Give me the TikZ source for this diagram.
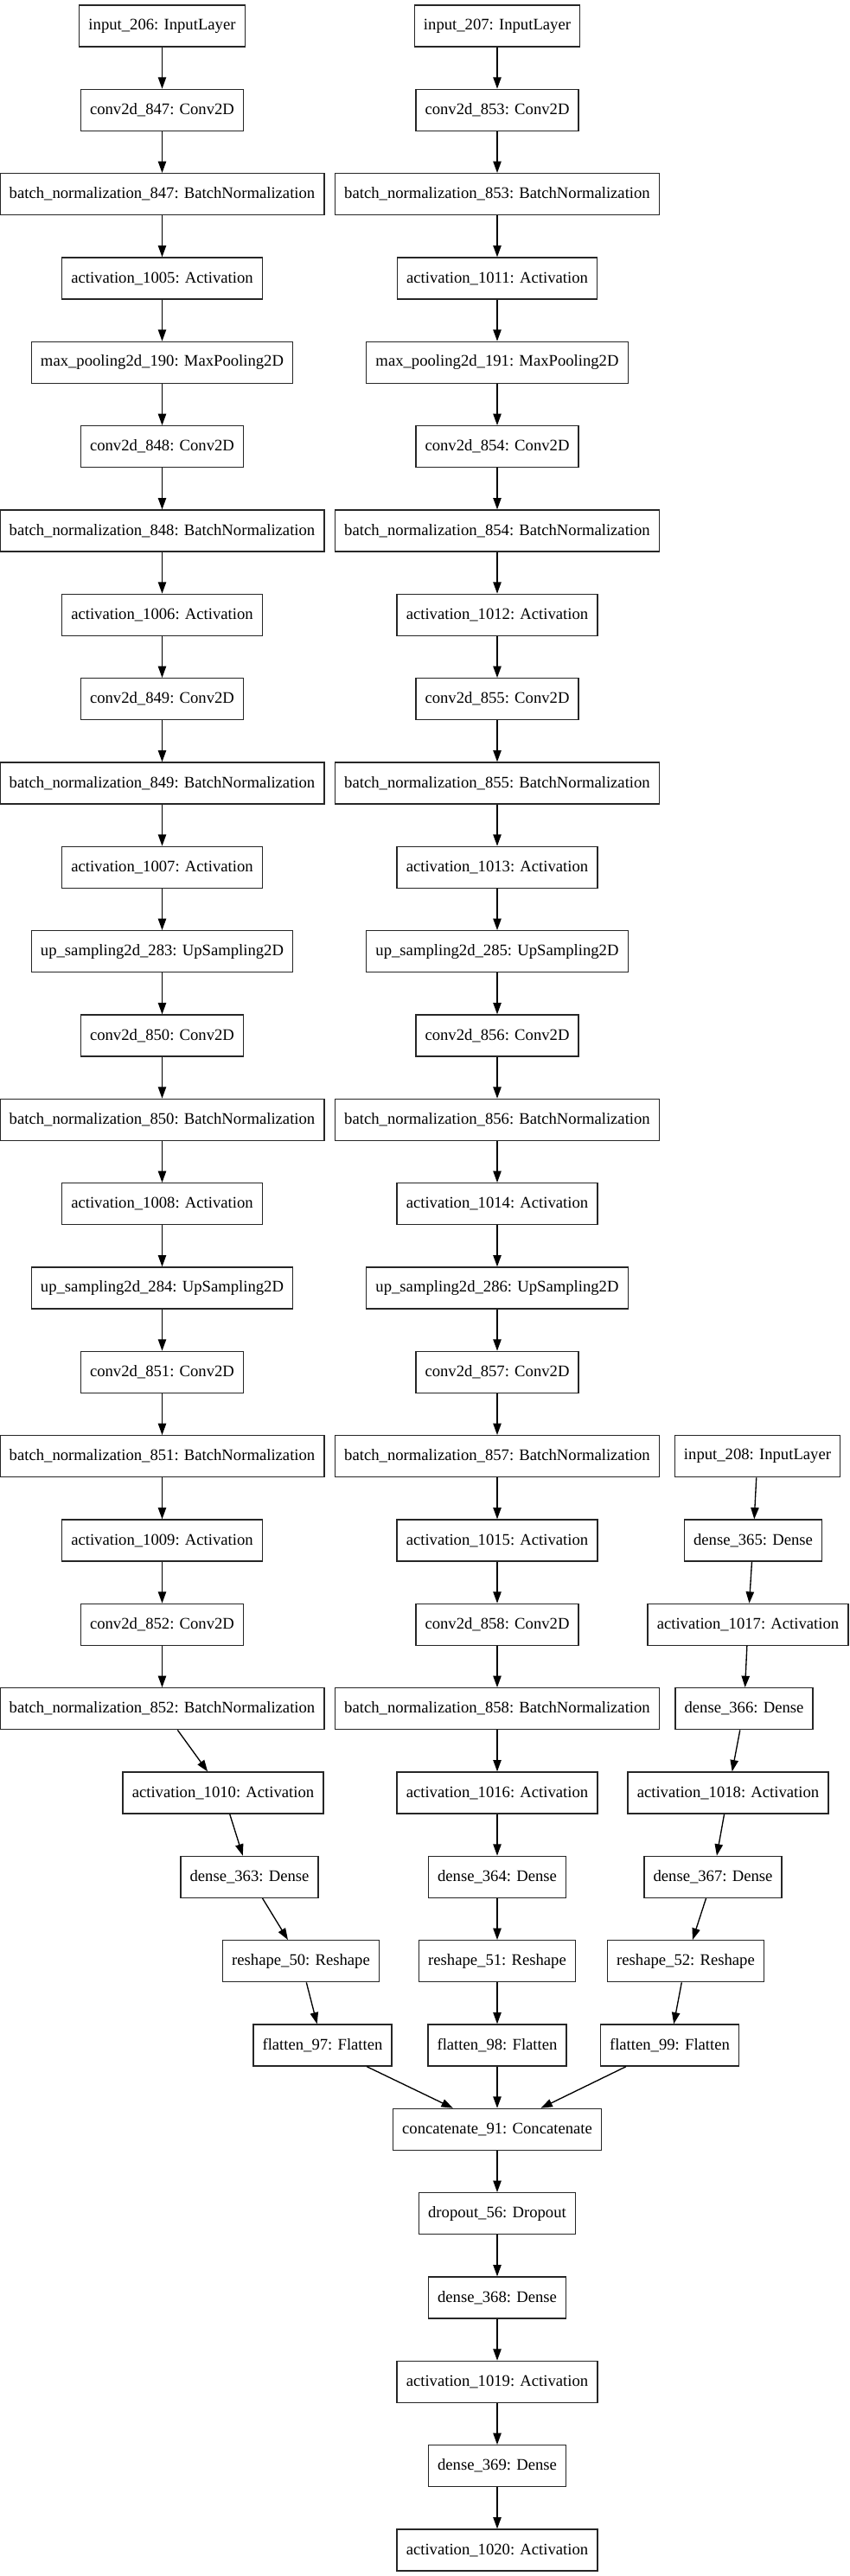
\documentclass[tikz,border=0pt]{standalone}
\usepackage{fontspec}
\setmainfont{Liberation Serif}
\usetikzlibrary{arrows.meta}

\begin{document}
\begin{tikzpicture}[x=0.75pt, y=-73pt, >={Triangle[length=10pt,width=7pt]}, ->, line width=1pt]
   \useasboundingbox (0,-0.3082) rectangle (982,30.3082);
   \fontsize{14pt}{16pt}\selectfont
   \tikzstyle{layer}=[rectangle, draw=black!85, minimum height=36pt, inner xsep=8pt, inner ysep=0pt]
   % first branch
   \foreach \r/\n/\t in {0/in206/{input\_206: InputLayer},1/c847/{conv2d\_847: Conv2D},
       2/bn847/{batch\_normalization\_847: BatchNormalization},3/a1005/{activation\_1005: Activation},
       4/mp190/{max\_pooling2d\_190: MaxPooling2D},5/c848/{conv2d\_848: Conv2D},
       6/bn848/{batch\_normalization\_848: BatchNormalization},7/a1006/{activation\_1006: Activation},
       8/c849/{conv2d\_849: Conv2D},9/bn849/{batch\_normalization\_849: BatchNormalization},
       10/a1007/{activation\_1007: Activation},11/up283/{up\_sampling2d\_283: UpSampling2D},
       12/c850/{conv2d\_850: Conv2D},13/bn850/{batch\_normalization\_850: BatchNormalization},
       14/a1008/{activation\_1008: Activation},15/up284/{up\_sampling2d\_284: UpSampling2D},
       16/c851/{conv2d\_851: Conv2D},17/bn851/{batch\_normalization\_851: BatchNormalization},
       18/a1009/{activation\_1009: Activation},19/c852/{conv2d\_852: Conv2D},
       20/bn852/{batch\_normalization\_852: BatchNormalization}} {
       \node[layer] (\n) at (187.5,\r) {\t};
   }
   \node[layer] (a1010) at (258,21) {activation\_1010: Activation};
   \node[layer] (d363) at (288.5,22) {dense\_363: Dense};
   \node[layer] (r50) at (348,23) {reshape\_50: Reshape};
   \node[layer] (f97) at (373,24) {flatten\_97: Flatten};
   % second branch
   \foreach \r/\n/\t in {0/in207/{input\_207: InputLayer},1/c853/{conv2d\_853: Conv2D},
       2/bn853/{batch\_normalization\_853: BatchNormalization},3/a1011/{activation\_1011: Activation},
       4/mp191/{max\_pooling2d\_191: MaxPooling2D},5/c854/{conv2d\_854: Conv2D},
       6/bn854/{batch\_normalization\_854: BatchNormalization},7/a1012/{activation\_1012: Activation},
       8/c855/{conv2d\_855: Conv2D},9/bn855/{batch\_normalization\_855: BatchNormalization},
       10/a1013/{activation\_1013: Activation},11/up285/{up\_sampling2d\_285: UpSampling2D},
       12/c856/{conv2d\_856: Conv2D},13/bn856/{batch\_normalization\_856: BatchNormalization},
       14/a1014/{activation\_1014: Activation},15/up286/{up\_sampling2d\_286: UpSampling2D},
       16/c857/{conv2d\_857: Conv2D},17/bn857/{batch\_normalization\_857: BatchNormalization},
       18/a1015/{activation\_1015: Activation},19/c858/{conv2d\_858: Conv2D},
       20/bn858/{batch\_normalization\_858: BatchNormalization},21/a1016/{activation\_1016: Activation},
       22/d364/{dense\_364: Dense},23/r51/{reshape\_51: Reshape},24/f98/{flatten\_98: Flatten},
       25/cat91/{concatenate\_91: Concatenate},26/do56/{dropout\_56: Dropout},
       27/d368/{dense\_368: Dense},28/a1019/{activation\_1019: Activation},
       29/d369/{dense\_369: Dense},30/a1020/{activation\_1020: Activation}} {
       \node[layer] (\n) at (575,\r) {\t};
   }
   % third branch
   \foreach \r/\x/\n/\t in {17/876/in208/{input\_208: InputLayer},18/871/d365/{dense\_365: Dense},
       19/865/a1017/{activation\_1017: Activation},20/860.5/d366/{dense\_366: Dense},
       21/842/a1018/{activation\_1018: Activation},22/824.5/d367/{dense\_367: Dense},
       23/793/r52/{reshape\_52: Reshape},24/774.5/f99/{flatten\_99: Flatten}} {
       \node[layer] (\n) at (\x,\r) {\t};
   }
   % connections
   \foreach \a/\b in {in206/c847,c847/bn847,bn847/a1005,a1005/mp190,mp190/c848,c848/bn848,
       bn848/a1006,a1006/c849,c849/bn849,bn849/a1007,a1007/up283,up283/c850,c850/bn850,
       bn850/a1008,a1008/up284,up284/c851,c851/bn851,bn851/a1009,a1009/c852,c852/bn852,
       bn852/a1010,a1010/d363,d363/r50,r50/f97,
       in207/c853,c853/bn853,bn853/a1011,a1011/mp191,mp191/c854,c854/bn854,
       bn854/a1012,a1012/c855,c855/bn855,bn855/a1013,a1013/up285,up285/c856,c856/bn856,
       bn856/a1014,a1014/up286,up286/c857,c857/bn857,bn857/a1015,a1015/c858,c858/bn858,
       bn858/a1016,a1016/d364,d364/r51,r51/f98,
       in208/d365,d365/a1017,a1017/d366,d366/a1018,a1018/d367,d367/r52,r52/f99,
       f97/cat91,f98/cat91,f99/cat91,cat91/do56,do56/d368,d368/a1019,a1019/d369,d369/a1020} {
       \path (\a) edge (\b);
   }
\end{tikzpicture}
\end{document}
